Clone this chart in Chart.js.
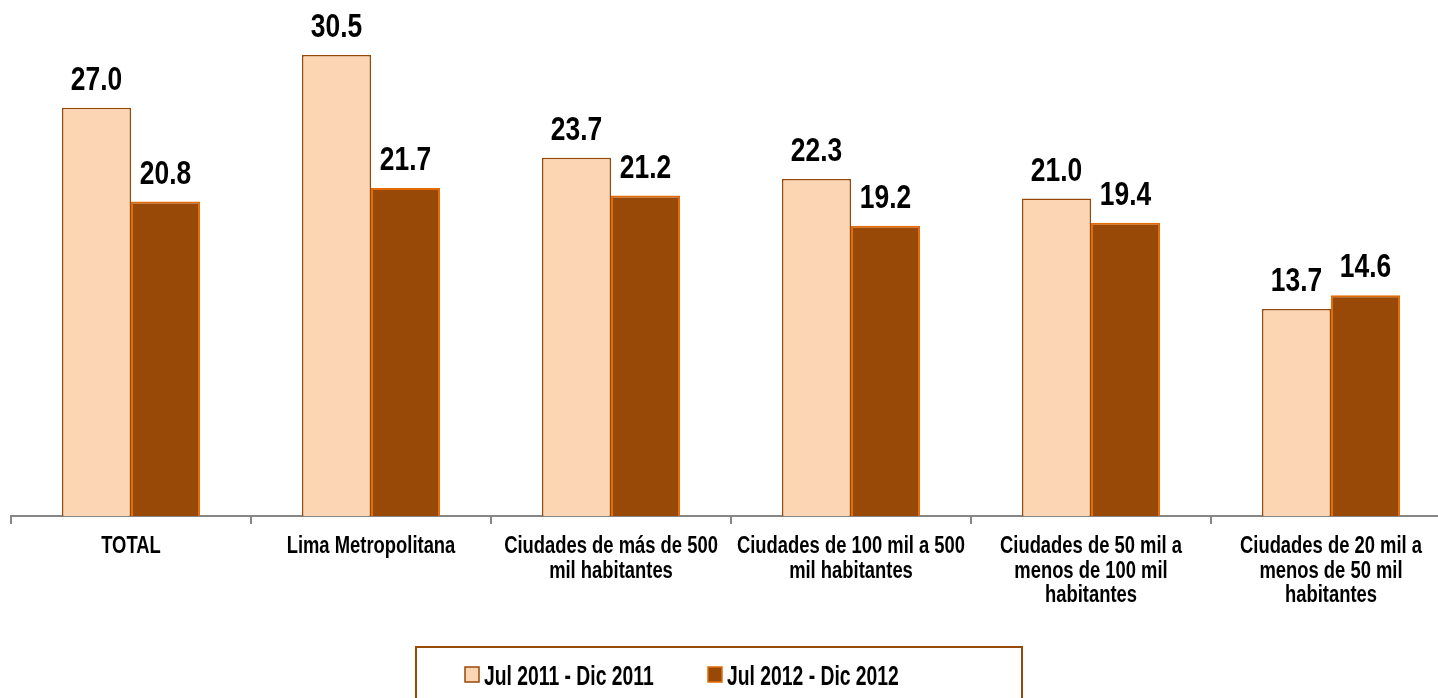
<!DOCTYPE html>
<html>
<head>
<meta charset="utf-8">
<script src="https://cdn.jsdelivr.net/npm/chart.js@4/dist/chart.umd.min.js"></script>
<style>
  html, body { margin: 0; padding: 0; background: #fff; overflow: hidden; }
  #wrap { position: relative; width: 1452px; height: 698px; }
</style>
</head>
<body>
<div id="wrap"><canvas id="chart"></canvas></div>
<script>
// Datos del gráfico
const categories = [
    'TOTAL',
    'Lima Metropolitana',
    ['Ciudades de más de 500', 'mil habitantes'],
    ['Ciudades de 100 mil a 500', 'mil habitantes'],
    ['Ciudades de 50 mil a', 'menos de 100 mil', 'habitantes'],
    ['Ciudades de 20 mil a', 'menos de 50 mil', 'habitantes']
];
const seriesNames = ['Jul 2011 - Dic 2011', 'Jul 2012 - Dic 2012'];
const values2011 = [27.0, 30.5, 23.7, 22.3, 21.0, 13.7];
const values2012 = [20.8, 21.7, 21.2, 19.2, 19.4, 14.6];

// Liberation Sans comprimida horizontalmente para imitar Arial Narrow
const FONT = "'Liberation Sans', Arial, sans-serif";
const lightFill = '#FCD5B5';
const lightBorder = '#984807';
const darkFill = '#984807';
const darkBorder = '#E36C09';

function narrowText(ctx, text, x, y, sx) {
    ctx.save();
    ctx.translate(x, y);
    ctx.scale(sx, 1);
    ctx.fillText(text, 0, 0);
    ctx.restore();
}

// Etiquetas de valor encima de cada barra
const valueLabels = {
    id: 'valueLabels',
    afterDatasetsDraw(chart) {
        const ctx = chart.ctx;
        ctx.save();
        ctx.font = 'bold 33px ' + FONT;
        ctx.fillStyle = '#000';
        ctx.textAlign = 'center';
        ctx.textBaseline = 'alphabetic';
        chart.data.datasets.forEach((ds, i) => {
            chart.getDatasetMeta(i).data.forEach((bar, j) => {
                narrowText(ctx, ds.data[j].toFixed(1), bar.x, bar.y - 18, 0.8);
            });
        });
        ctx.restore();
    }
};

// Etiquetas de categoría del eje X (varias líneas, centradas)
const categoryLabels = {
    id: 'categoryLabels',
    afterDraw(chart) {
        const ctx = chart.ctx;
        const xScale = chart.scales.x;
        ctx.save();
        ctx.font = 'bold 23px ' + FONT;
        ctx.fillStyle = '#000';
        ctx.textAlign = 'center';
        ctx.textBaseline = 'alphabetic';
        chart.data.labels.forEach((lab, i) => {
            const lines = Array.isArray(lab) ? lab : [lab];
            const x = xScale.getPixelForTick(i);
            lines.forEach((line, k) => {
                narrowText(ctx, line, x, xScale.top + 37 + k * 24.5, 0.8);
            });
        });
        ctx.restore();
    }
};

// Leyenda dibujada dentro de un recuadro
const boxedLegend = {
    id: 'boxedLegend',
    afterDraw(chart) {
        const ctx = chart.ctx;
        ctx.save();
        ctx.strokeStyle = '#984807';
        ctx.lineWidth = 2;
        ctx.strokeRect(416, 647, 606, 70);
        ctx.font = 'bold 28px ' + FONT;
        ctx.textAlign = 'left';
        ctx.textBaseline = 'alphabetic';
        const starts = [465, 708];
        chart.data.datasets.forEach((ds, i) => {
            const x = starts[i];
            ctx.fillStyle = ds.backgroundColor;
            ctx.fillRect(x, 667, 14, 15);
            ctx.strokeStyle = ds.borderColor;
            ctx.lineWidth = 1.5;
            ctx.strokeRect(x, 667, 14, 15);
            ctx.fillStyle = '#000';
            narrowText(ctx, ds.label, x + 19, 685, 0.69);
        });
        ctx.restore();
    }
};

const ctx = document.getElementById('chart').getContext('2d');
const chart = new Chart(ctx, {
    type: 'bar',
    data: {
        labels: categories,
        datasets: [{
            label: seriesNames[0],
            data: values2011,
            backgroundColor: lightFill,
            borderColor: lightBorder,
            borderWidth: 1.5,
            categoryPercentage: 0.575,
            barPercentage: 1
        }, {
            label: seriesNames[1],
            data: values2012,
            backgroundColor: darkFill,
            borderColor: darkBorder,
            borderWidth: 2,
            categoryPercentage: 0.575,
            barPercentage: 1
        }]
    },
    options: {
        responsive: true,
        maintainAspectRatio: false,
        animation: false,
        layout: {
            padding: { left: 11, right: 1, top: 2, bottom: 0 }
        },
        plugins: {
            legend: { display: false },
            tooltip: { enabled: false }
        },
        scales: {
            x: {
                offset: true,
                afterFit(scale) { scale.height = 182; },
                grid: {
                    display: true,
                    offset: true,
                    drawOnChartArea: false,
                    drawTicks: true,
                    tickLength: 8,
                    color: '#868686',
                    lineWidth: 2
                },
                border: { display: true, color: '#868686', width: 2 },
                ticks: { display: false, autoSkip: false, maxRotation: 0 }
            },
            y: {
                display: false,
                min: 0,
                max: 34
            }
        }
    },
    plugins: [valueLabels, categoryLabels, boxedLegend]
});
</script>
</body>
</html>
